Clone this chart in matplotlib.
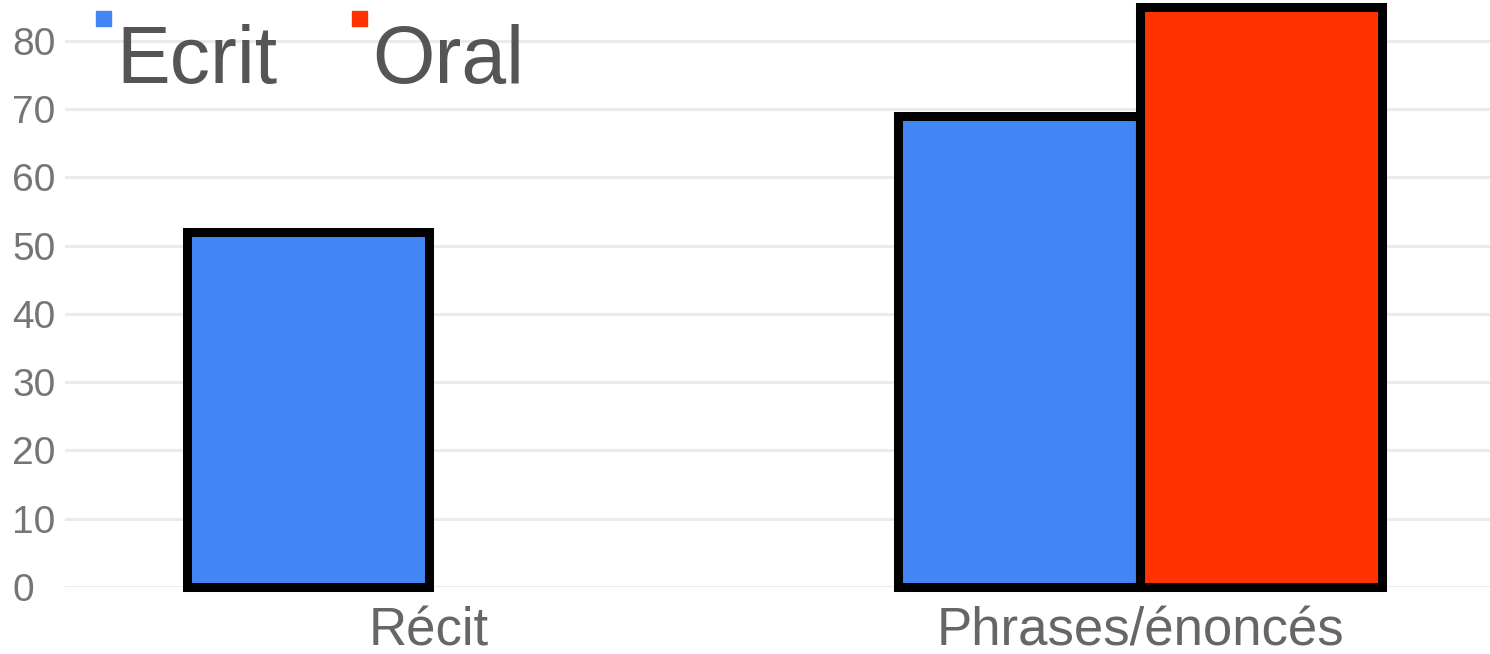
import matplotlib.pyplot as plt
from matplotlib.patches import Rectangle
import numpy as np

plt.rcParams['font.family'] = ['Liberation Sans', 'DejaVu Sans']

# data
categories = ["Récit", "Phrases/énoncés"]
series = ["Ecrit", "Oral"]
ecrit = [52, 69]
oral = [None, 85]   # no Oral bar for Récit
colors = ["#4285F4", "#FF3300"]

fig = plt.figure(figsize=(14.9, 6.54), dpi=100)
ax = fig.add_axes([65 / 1490, 1 - 587 / 654, 1 - 65 / 1490, 587 / 654])

x = np.arange(len(categories))
w = 0.34
for k, (vals, col) in enumerate(zip([ecrit, oral], colors)):
    off = (k - 0.5) * w
    xs = [x[i] + off for i, v in enumerate(vals) if v is not None]
    hs = [v for v in vals if v is not None]
    ax.bar(xs, hs, width=w, color=col, edgecolor="black", linewidth=6.5,
           zorder=3, clip_on=False)

ax.set_xlim(-0.512, 1.492)
ax.set_ylim(0, 86)
ax.set_yticks(range(0, 90, 10))
ax.grid(axis="y", color="#ebebeb", linewidth=2.2, zorder=0)
for s in ax.spines.values():
    s.set_visible(False)

ax.set_xticks(x)
ax.set_xticklabels(categories, fontsize=38, color="#666666")
ax.tick_params(axis="x", length=0, pad=14)
ax.tick_params(axis="y", length=0, pad=38, labelsize=28, labelcolor="#757575")
for lab in ax.get_yticklabels():
    lab.set_horizontalalignment("left")

# legend at the top left, drawn by hand
leg_x = [96, 352]
for name, col, lx in zip(series, colors, leg_x):
    fig.add_artist(Rectangle((lx / 1490, 1 - 26 / 654), 15 / 1490, 15 / 654,
                             transform=fig.transFigure, color=col))
    fig.text((lx + 20) / 1490, 1 - 83 / 654, name, fontsize=58,
             color="#555555", ha="left", va="baseline")

fig.savefig("out.png", dpi=100)
